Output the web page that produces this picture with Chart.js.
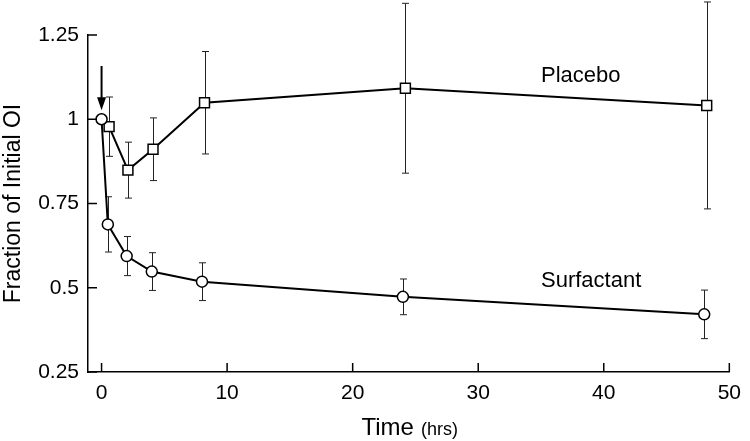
<!DOCTYPE html>
<html>
<head>
<meta charset="utf-8">
<script src="https://cdn.jsdelivr.net/npm/chart.js@4"></script>
<style>
  html, body { margin: 0; padding: 0; background: #fff; }
  #wrap { width: 750px; height: 441px; }
</style>
</head>
<body>
<div id="wrap"><canvas id="myChart"></canvas></div>
<script>
// values
var surfTimes = [0, 0.5, 2, 4, 8, 24, 48];
var surfactant = [1.0, 0.688, 0.594, 0.548, 0.518, 0.473, 0.421];
var surfErr = [0, 0.082, 0.058, 0.056, 0.056, 0.053, 0.072];

var placeboTimes = [0.6, 2.1, 4.1, 8.2, 24.2, 48.2];
var placebo = [0.978, 0.849, 0.911, 1.049, 1.092, 1.041];
var placeboErr = [0.088, 0.083, 0.093, 0.152, 0.252, 0.307];

var xTicks = [0, 10, 20, 30, 40, 50];
var yTicks = [0.25, 0.5, 0.75, 1, 1.25];
var yTickLabels = ['0.25', '0.5', '0.75', '1', '1.25'];

var FONT = '"Liberation Sans", Arial, sans-serif';
Chart.defaults.font.family = FONT;
Chart.defaults.color = '#000';

function toPoints(xs, ys) {
    return xs.map(function (x, i) { return { x: x, y: ys[i] }; });
}

// error bars, drawn under the markers
var errorBars = {
    id: 'errorBars',
    beforeDatasetsDraw: function (chart) {
        var ctx = chart.ctx, xs = chart.scales.x, ys = chart.scales.y;
        var sets = [[surfTimes, surfactant, surfErr], [placeboTimes, placebo, placeboErr]];
        ctx.save();
        ctx.strokeStyle = '#222';
        ctx.lineWidth = 1;
        sets.forEach(function (s) {
            s[0].forEach(function (t, i) {
                if (!s[2][i]) return;
                var px = Math.round(xs.getPixelForValue(t)) + 0.5;
                var top = ys.getPixelForValue(s[1][i] + s[2][i]);
                var bot = ys.getPixelForValue(s[1][i] - s[2][i]);
                ctx.beginPath();
                ctx.moveTo(px, top); ctx.lineTo(px, bot);
                ctx.moveTo(px - 3.5, top); ctx.lineTo(px + 3.5, top);
                ctx.moveTo(px - 3.5, bot); ctx.lineTo(px + 3.5, bot);
                ctx.stroke();
            });
        });
        ctx.restore();
    }
};

// inward tick marks, arrow, series labels, x title
var extras = {
    id: 'extras',
    afterDraw: function (chart) {
        var ctx = chart.ctx, xs = chart.scales.x, ys = chart.scales.y;
        var area = chart.chartArea;
        ctx.save();
        ctx.strokeStyle = '#000';
        ctx.lineWidth = 1.5;
        ctx.beginPath();
        xTicks.forEach(function (v) {
            var px = xs.getPixelForValue(v);
            ctx.moveTo(px, area.bottom); ctx.lineTo(px, area.bottom - 9);
        });
        yTicks.forEach(function (v) {
            var py = ys.getPixelForValue(v);
            ctx.moveTo(area.left, py); ctx.lineTo(area.left + 9, py);
        });
        ctx.stroke();

        // arrow marking dosing at t = 0
        var ax = xs.getPixelForValue(0);
        var aTop = ys.getPixelForValue(1.158);
        var aTip = ys.getPixelForValue(1.027);
        ctx.lineWidth = 2;
        ctx.beginPath();
        ctx.moveTo(ax, aTop); ctx.lineTo(ax, aTip - 10);
        ctx.stroke();
        ctx.fillStyle = '#000';
        ctx.beginPath();
        ctx.moveTo(ax - 4.5, aTip - 13);
        ctx.lineTo(ax + 4.5, aTip - 13);
        ctx.lineTo(ax, aTip);
        ctx.closePath();
        ctx.fill();

        // series labels
        ctx.font = '22px ' + FONT;
        ctx.textAlign = 'left';
        ctx.textBaseline = 'alphabetic';
        ctx.fillText('Placebo', xs.getPixelForValue(35), ys.getPixelForValue(1.110));
        ctx.fillText('Surfactant', xs.getPixelForValue(35), ys.getPixelForValue(0.501));

        // x axis title with smaller unit
        ctx.font = '24px ' + FONT;
        var w1 = ctx.measureText('Time').width;
        ctx.font = '18px ' + FONT;
        var w2 = ctx.measureText(' (hrs)').width;
        var cx = (area.left + area.right) / 2;
        var x0 = cx - (w1 + w2) / 2;
        ctx.font = '24px ' + FONT;
        ctx.fillText('Time', x0, 435);
        ctx.font = '18px ' + FONT;
        ctx.fillText(' (hrs)', x0 + w1 + 2, 435);
        ctx.restore();
    }
};

var ctx = document.getElementById('myChart').getContext('2d');
var myChart = new Chart(ctx, {
    type: 'scatter',
    data: {
        datasets: [{
            label: 'Surfactant',
            data: toPoints(surfTimes, surfactant),
            showLine: true,
            borderColor: '#000',
            borderWidth: 2,
            pointStyle: 'circle',
            pointRadius: 5.5,
            pointBorderWidth: 1.5,
            pointBackgroundColor: '#fff',
            pointBorderColor: '#000',
            clip: false
        }, {
            label: 'Placebo',
            data: toPoints(placeboTimes, placebo),
            showLine: true,
            borderColor: '#000',
            borderWidth: 2,
            pointStyle: 'rect',
            pointRadius: 7,
            pointBorderWidth: 1.5,
            pointBackgroundColor: '#fff',
            pointBorderColor: '#000',
            clip: false
        }]
    },
    options: {
        responsive: true,
        maintainAspectRatio: false,
        animation: false,
        layout: { padding: { top: 35, right: 14, left: 0, bottom: 0 } },
        plugins: {
            legend: { display: false },
            tooltip: { enabled: false }
        },
        scales: {
            x: {
                type: 'linear',
                min: -1.08,
                max: 50,
                grid: { display: false, drawTicks: false },
                border: { display: true, color: '#000', width: 1.5 },
                afterBuildTicks: function (s) {
                    s.ticks = xTicks.map(function (v) { return { value: v }; });
                },
                afterFit: function (s) { s.height = 69; },
                ticks: { font: { size: 21 }, padding: 9, maxRotation: 0, color: '#000' }
            },
            y: {
                min: 0.25,
                max: 1.25,
                grid: { display: false, drawTicks: false },
                border: { display: true, color: '#000', width: 1.5 },
                afterBuildTicks: function (s) {
                    s.ticks = yTicks.map(function (v) { return { value: v }; });
                },
                afterFit: function (s) { s.width = 88; },
                ticks: {
                    font: { size: 21 },
                    padding: 9,
                    color: '#000',
                    callback: function (v) {
                        var i = yTicks.indexOf(v);
                        return i >= 0 ? yTickLabels[i] : '';
                    }
                },
                title: {
                    display: true,
                    text: 'Fraction of Initial OI',
                    font: { size: 23 },
                    color: '#000',
                    padding: { top: 0, bottom: 0 }
                }
            }
        }
    },
    plugins: [errorBars, extras]
});
</script>
</body>
</html>
